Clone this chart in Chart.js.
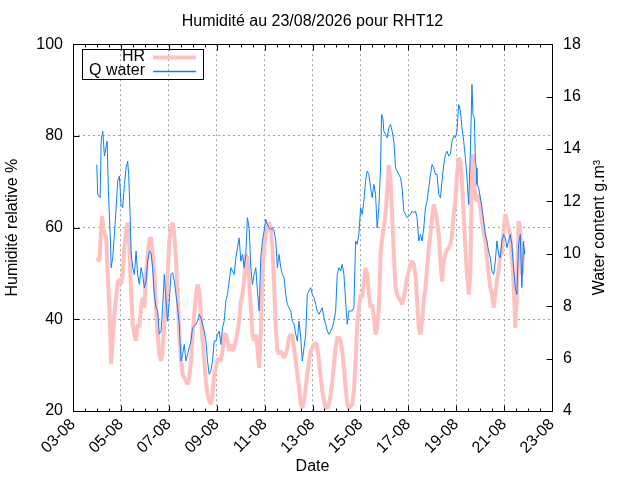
<!DOCTYPE html>
<html lang="fr">
<head>
<meta charset="UTF-8">
<title>Humidité au 23/08/2026 pour RHT12</title>
<script src="https://cdn.jsdelivr.net/npm/chart.js@4"></script>
<style>
html,body{margin:0;padding:0;background:#fff}
canvas{display:block}
</style>
</head>
<body>
<canvas id="chart" width="640" height="480"></canvas>
<script>
// x values are hours since 03-08 00:00
const dateLabels = ['03-08','05-08','07-08','09-08','11-08','13-08','15-08','17-08','19-08','21-08','23-08'];

const hrHours = [
  23.8,26.5,28.2,29.2,30.8,33.2,34.8,36.5,37.5,38.2,39.8,41.5,43.2,44.8,46.5,48.2,49.8,51.5,53.2,54.8,
  56.5,58.2,59.8,61.5,63.2,64.8,66.5,68.2,69.8,71.5,73.2,74.8,76.5,78.2,79.8,81.5,83.2,84.8,86.5,88.2,
  89.8,91.5,93.2,94.8,96.5,98.2,99.8,101.5,103.2,104.8,106.5,108.2,109.8,111.5,
  113.2,114.8,116.5,118.2,119.8,121.5,123.2,124.8,126.5,128.2,129.8,131.5,133.2,134.8,136.5,138.2,139.8,141.5,143.2,144.8,
  146.5,148.2,149.8,151.5,153.2,154.8,156.5,158.2,159.8,161.5,163.2,164.8,166.5,168.2,169.8,171.5,173.2,174.8,176.5,178.2,
  179.8,181.5,183.2,184.8,186.5,188.2,189.8,191.5,193.2,194.8,196.5,198.2,199.8,201.5,203.2,204.8,206.5,
  208.2,209.8,211.5,213.2,214.8,216.5,218.2,219.8,221.5,223.2,224.8,226.5,228.2,229.8,231.5,233.2,234.8,236.5,238.2,239.8,
  241.5,243.2,244.8,246.5,248.2,249.8,251.5,253.2,254.8,256.5,258.2,259.8,261.5,263.2,264.8,266.5,268.2,269.8,271.5,273.2,
  274.8,276.5,278.2,279.8,281.5,283.2,284.8,286.5,288.2,289.8,291.5,293.2,294.8,296.5,298.2,299.8,301.5,
  303.2,304.8,306.5,308.2,309.8,311.5,313.2,314.8,316.5,318.2,319.8,321.5,323.2,324.8,326.5,328.2,329.8,331.5,333.2,334.8,
  336.5,338.2,339.8,341.5,343.2,344.8,346.5,348.2,349.8,351.5,353.2,354.8,356.5,358.2,359.8,361.5,363.2,364.8,366.5,368.2,
  369.8,371.5,373.2,374.8,376.5,378.2,379.8,381.5,383.2,384.8,386.5,388.2,389.8,391.5,393.2,394.8,396.5,
  398.2,399.8,400.8,402.2,403.2,404.8,406.5,408.2,409.8,411.5,413.2,414.8,416.5,418.2,419.8,421.5,423.2,424.8,426.5,428.2,
  429.8,431.5,433.2,434.8,436.5,438.2,439.8,441.5,443.2,444.8,446.5,448.2,449.8,451.5
];
const hrValues = [
  53.4,52.7,60,62.5,59.2,57.8,49.8,42.5,35.3,30.2,35.3,41.1,44.7,48.3,48.7,47.6,49.8,55.6,59.2,61.1,
  55.6,46.2,38.9,36.7,35.3,38.9,38.2,42.5,44.7,42.5,49.8,54.2,57.4,57.8,54.2,49.8,42.5,36.7,32.4,30.9,
  33.1,38.9,42.5,49.8,57.1,59.6,61.1,58.5,52.7,45.4,36.7,30.9,28,27.3,
  26.5,25.8,27.3,30.9,36.7,41.1,45.4,47.6,46.2,41.1,35.3,30.9,26.5,23.6,22.2,21.5,23.6,28,29.4,30.9,
  31.6,30.9,33.1,36.7,36.7,35.3,33.1,34.5,33.1,33.8,35.3,37.4,39.6,44,45.4,48.3,54.2,53.4,48.3,42.5,
  36.7,35.3,36.7,33.8,29.4,37.4,49.8,55.6,58.5,60,61.1,60,55.6,47.6,38.2,33.1,32.4,
  33.1,32.4,31.6,32.4,33.8,36,36.7,36.4,33.8,30.9,28,25.1,21.5,20.7,22.2,25.1,28,30.9,33.1,33.8,
  34.5,34.9,33.8,30.9,27.3,24.4,22.2,20.7,20.7,21.5,23.6,26.5,30.2,33.8,36,36,35.3,33.1,29.4,25.1,
  21.5,20.7,21.1,21.5,24.4,30.9,38.9,42.5,45.4,44.7,48.3,51.2,49.8,45.4,42.5,43.3,40.3,
  36.7,38.2,42.5,54.2,57.8,60,62.9,68,73.6,70.1,62.9,54.2,46.9,45.4,44.7,44,43.3,44.7,46.9,49.1,
  50.5,52,52.7,52,49.8,44,38.2,36.7,39.6,44,46.9,51.2,55.6,58.5,62.2,65.1,63.6,61.4,58.5,52.7,
  48.3,52.7,54.2,55.2,55.6,56.3,58.5,62.9,65.8,71.6,75.2,74.5,70.1,62.9,55.6,49.8,45.4,
  49.8,73.1,76,70.1,66.5,65.8,67.2,64.3,61.4,59.2,57.1,53.4,49.8,46.9,45.4,42.5,45.4,48.3,50.5,54.2,
  54.2,59.2,62.9,61.4,60,58.5,53.4,48.3,38.2,45.4,61.4,60,49.8,55.6
];

const qHours = [
  23.8,24.8,27.2,28.2,29.8,31.5,34.2,35.5,37.5,38.2,39.8,41.5,43.2,44.8,46.5,48.2,49.8,51.5,53.2,54.8,
  55.8,57.2,58.2,59.8,61.5,63.2,64.8,66.5,68.2,69.8,71.5,73.2,74.8,76.5,78.2,79.8,81.5,83.2,84.8,86.5,
  88.2,89.8,91.5,93.2,94.8,96.5,98.2,99.8,101.5,103.2,104.8,106.5,108.2,109.8,111.5,
  113.2,114.8,116.5,118.2,119.8,121.5,123.2,124.8,126.5,128.2,129.8,131.5,133.2,134.8,136.5,138.2,139.8,141.5,143.2,144.8,
  146.5,148.2,149.8,151.5,153.2,154.8,156.5,158.2,159.8,161.5,163.2,164.8,166.5,168.2,169.8,171.5,173.2,174.8,176.5,178.2,
  179.8,181.5,183.2,184.8,186.5,188.2,189.8,191.5,193.2,194.8,196.5,198.2,199.8,201.5,203.2,204.8,206.5,
  208.2,209.8,211.5,213.2,214.8,216.5,218.2,219.8,221.5,223.2,224.8,226.5,228.2,229.8,231.5,233.2,234.8,236.5,238.2,239.8,
  241.5,243.2,244.8,246.5,248.2,249.8,251.5,253.2,254.8,256.5,258.2,259.8,261.5,263.2,264.8,266.5,268.2,269.8,271.5,273.2,
  274.8,276.5,278.2,279.8,281.5,283.2,284.8,286.5,288.2,289.8,291.5,293.2,294.8,296.5,298.2,299.8,301.5,
  303.2,304.8,306.5,308.2,309.2,310.5,311.5,313.2,314.8,316.5,318.2,319.8,321.5,323.2,324.8,326.5,328.2,329.8,331.5,333.2,
  334.8,336.5,338.2,339.8,341.5,343.2,344.8,346.5,348.2,349.8,351.5,353.2,354.8,356.5,358.2,359.8,361.5,363.2,364.8,366.5,
  368.2,369.8,371.5,373.2,374.8,376.5,378.2,379.8,381.5,383.2,384.8,386.5,388.2,389.8,391.5,393.2,394.8,396.5,
  398.2,399.8,400.8,402.2,403.2,404.2,404.8,406.5,408.2,409.8,411.5,413.2,414.8,416.5,418.2,419.8,421.5,423.2,424.8,426.5,
  428.2,429.8,431.5,433.2,434.8,436.5,438.2,439.8,441.5,443.2,444.8,446.5,448.2,449.8,451.5,452.5
];
const qValues = [
  13.4,12.27,12.14,14.3,14.68,13.73,14.3,12.39,10.49,9.47,9.85,10.74,11.76,12.78,12.97,11.88,11.76,12.65,13.28,13.53,
  13.03,11.5,10.1,9.47,9.21,10.1,9.21,8.83,9.47,9.21,8.7,8.96,9.72,10.1,10.04,9.47,8.45,7.94,7.82,6.93,
  7.05,7.94,9.21,8.2,7.43,8.2,9.21,9.28,8.96,8.45,7.94,7.31,5.91,6.16,6.54,
  5.91,6.16,6.42,6.67,7.18,7.24,7.31,7.43,7.69,7.56,7.31,7.05,6.67,5.91,5.4,5.53,5.91,6.67,6.67,6.93,
  7.05,6.54,7.18,7.43,8.2,8.45,8.96,9.47,9.34,9.21,9.85,10.23,10.61,9.72,9.98,9.47,9.98,11.38,10.99,9.47,
  8.83,9.21,9.47,8.58,7.82,9.85,10.49,10.87,11.31,11.12,10.99,10.93,10.99,10.87,10.49,9.47,9.98,
  9.47,9.21,9.09,8.45,8.07,7.94,7.82,7.43,7.31,6.93,6.67,7.43,6.8,5.91,6.42,6.93,8.45,8.58,8.71,8.45,
  8.32,8.07,7.82,7.69,7.82,7.94,7.56,7.31,7.05,6.93,7.05,7.18,7.43,7.82,9.21,9.47,9.34,9.6,9.21,8.2,
  7.31,7.82,7.82,7.82,7.94,10.49,10.36,10.74,11.76,11.5,12.01,12.78,13.16,13.03,12.52,12.14,12.65,
  12.27,10.99,11.76,13.28,15.32,15.19,14.68,14.56,14.43,14.81,14.94,14.68,14.3,13.28,13.16,13.03,12.9,12.52,11.63,11.5,
  11.38,11.44,11.5,11.63,11.57,11.63,11.38,10.49,10.74,10.49,10.99,11.76,12.01,12.52,13.03,13.41,13.28,13.03,13.03,12.27,
  12.14,12.78,13.41,13.79,13.92,13.73,13.79,14.3,14.49,14.43,14.68,15.7,15.45,14.81,14.3,13.67,12.9,11.88,
  13.92,16.46,15.32,15.19,13.54,13.28,12.65,12.52,12.14,11.76,11.25,10.74,10.49,10.1,9.85,9.34,9.21,9.72,10.49,9.98,
  9.85,10.49,10.74,10.61,10.23,10.49,10.74,10.36,9.47,8.71,8.45,10.36,10.74,8.71,10.49,9.98
];

const FONT = '"Liberation Sans", Arial, Helvetica, sans-serif';
const HR_COLOR = '#ffc0c0';
const Q_COLOR = '#0a80ff';

function points(xs, ys) {
  return xs.map((x, i) => ({x: x, y: ys[i]}));
}

// frame, inward tick marks, key box and right axis title (gnuplot look)
const gnuplotDecor = {
  id: 'gnuplotDecor',
  afterDatasetsDraw(chart) {
    const {ctx, chartArea: a, scales} = chart;
    const x = scales.x, y = scales.y, y2 = scales.y2;
    const L = Math.round(a.left) + 0.5, R = Math.round(a.right) + 0.5;
    const T = Math.round(a.top) + 0.5, B = Math.round(a.bottom) + 0.5;
    ctx.save();
    ctx.strokeStyle = '#000';
    ctx.lineWidth = 1;
    ctx.beginPath();
    for (let h = x.min; h <= x.max; h += 12) {
      const px = Math.round(x.getPixelForValue(h)) + 0.5;
      const len = h % 48 === 0 ? 6 : 3;
      ctx.moveTo(px, B); ctx.lineTo(px, B - len);
      ctx.moveTo(px, T); ctx.lineTo(px, T + len);
    }
    y.ticks.forEach(t => {
      const py = Math.round(y.getPixelForValue(t.value)) + 0.5;
      ctx.moveTo(L, py); ctx.lineTo(L + 6, py);
    });
    y2.ticks.forEach(t => {
      const py = Math.round(y2.getPixelForValue(t.value)) + 0.5;
      ctx.moveTo(R, py); ctx.lineTo(R - 6, py);
    });
    ctx.stroke();
    ctx.strokeRect(L, T, R - L, B - T);

    // key
    const ds = chart.data.datasets;
    ctx.strokeRect(82.5, 49.5, 121, 30);
    ctx.font = '16px ' + FONT;
    ctx.fillStyle = '#000';
    ctx.textAlign = 'right';
    ctx.textBaseline = 'middle';
    const rows = [[ds[0], 57.5], [ds[1], 71.5]];
    rows.forEach(([d, ry]) => {
      ctx.fillText(d.label, 145, ry - 1);
      ctx.beginPath();
      ctx.strokeStyle = d.borderColor;
      ctx.lineWidth = d === ds[0] ? 4 : 1.5;
      ctx.moveTo(153, ry); ctx.lineTo(196, ry);
      ctx.stroke();
    });

    // right axis title, reading bottom to top
    ctx.translate(600, (a.top + a.bottom) / 2);
    ctx.rotate(-Math.PI / 2);
    ctx.textAlign = 'center';
    ctx.fillText('Water content g.m\u00B3', 0, 0);
    ctx.restore();
  }
};

new Chart(document.getElementById('chart'), {
  type: 'line',
  data: {
    datasets: [
      {label: 'HR', data: points(hrHours, hrValues), yAxisID: 'y', borderColor: HR_COLOR, borderWidth: 4,
       borderJoinStyle: 'bevel', pointRadius: 0, tension: 0, order: 1},
      {label: 'Q water', data: points(qHours, qValues), yAxisID: 'y2', borderColor: Q_COLOR, borderWidth: 1,
       pointRadius: 0, tension: 0, order: 0}
    ]
  },
  options: {
    responsive: false,
    animation: false,
    events: [],
    layout: {padding: 0},
    plugins: {
      legend: {display: false},
      tooltip: {enabled: false},
      title: {
        display: true,
        text: 'Humidité au 23/08/2026 pour RHT12',
        fullSize: false,
        color: '#000',
        font: {family: FONT, size: 16, weight: 'normal'},
        padding: {top: 12, bottom: 13}
      }
    },
    scales: {
      x: {
        type: 'linear',
        position: 'bottom',
        min: 0,
        max: 480,
        afterFit: s => { s.height = 69; },
        ticks: {
          stepSize: 48,
          autoSkip: false,
          minRotation: 45,
          maxRotation: 45,
          padding: 4,
          color: '#000',
          font: {family: FONT, size: 16},
          callback: v => dateLabels[Math.round(v / 48)]
        },
        grid: {color: '#a0a0a0', drawTicks: false},
        border: {display: false, dash: [2, 3]},
        title: {display: true, text: 'Date', color: '#000', font: {family: FONT, size: 16}, padding: {top: 0, bottom: 4}}
      },
      y: {
        position: 'left',
        min: 20,
        max: 100,
        afterFit: s => { s.width = 73; },
        ticks: {stepSize: 20, padding: 10, color: '#000', font: {family: FONT, size: 16}},
        grid: {color: '#a0a0a0', drawTicks: false},
        border: {display: false, dash: [2, 3]},
        title: {display: true, text: 'Humidité relative %', color: '#000', font: {family: FONT, size: 16}, padding: {top: 3, bottom: 0}}
      },
      y2: {
        position: 'right',
        min: 4,
        max: 18,
        afterFit: s => { s.width = 88; },
        ticks: {stepSize: 2, padding: 11, color: '#000', font: {family: FONT, size: 16}},
        grid: {display: false, drawTicks: false},
        border: {display: false}
      }
    }
  },
  plugins: [gnuplotDecor]
});
</script>
</body>
</html>
